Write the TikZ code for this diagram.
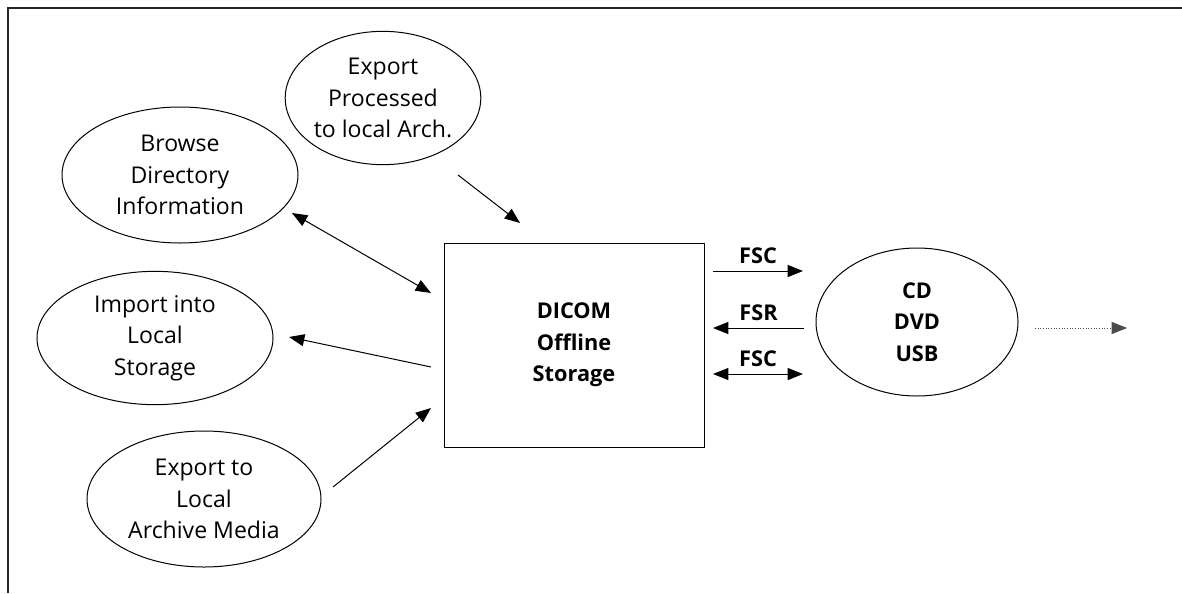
\documentclass[tikz,border=0pt]{standalone}
\usepackage{fontspec}
\setmainfont{Open Sans}
\usetikzlibrary{shapes.geometric,arrows.meta}

\begin{document}
\begin{tikzpicture}[x=0.75pt, y=-0.75pt, line width=0.75pt,
    >={Triangle[length=11.5pt,width=9pt]},
    font=\fontsize{17.3}{23.5}\selectfont,
    cas/.style={draw, ellipse, inner sep=0pt, align=center},
    bloc/.style={draw, rectangle, inner sep=0pt, align=center},
    gras/.style={font=\fontsize{16.3}{23.5}\selectfont\bfseries},
    etiq/.style={midway, above=2pt, font=\fontsize{16.3}{19}\selectfont\bfseries}]
                \useasboundingbox (0,0) rectangle (1182,593);

                % cadre
                \draw[line width=1.5pt, black!85] (8,593) -- (8,8) -- (1182,8);

                % cas d'utilisation
                \node[cas, minimum width=142.5pt, minimum height=100pt] (proc) at (383,98) {Export\\Processed\\to local Arch.};
                \node[cas, minimum width=177pt, minimum height=102pt] (browse) at (180,175) {Browse\\Directory\\Information};
                \node[cas, minimum width=177pt, minimum height=100pt] (import) at (155,338) {Import into\\Local\\Storage};
                \node[cas, minimum width=175.5pt, minimum height=102pt] (export) at (204,499) {Export to\\Local\\Archive Media};

                % stockage
                \node[bloc, gras, minimum width=195pt, minimum height=153pt] (dicom) at (574,345) {DICOM\\Offline\\Storage};

                % supports
                \node[cas, gras, minimum width=151.5pt, minimum height=111pt] (media) at (917,322) {CD\\DVD\\USB};

                % extremites des fleches
                \coordinate (procbas) at (458,175);
                \coordinate (dicomhaut) at (520,223);
                \coordinate (browsebas) at (292,213);
                \coordinate (dicomA) at (431,293);
                \coordinate (dicomB) at (431,367);
                \coordinate (importdroite) at (289,337);
                \coordinate (exporthaut) at (333,487);
                \coordinate (dicomC) at (431,408);
                \coordinate (fscA) at (713,271);
                \coordinate (fscB) at (803,271);
                \coordinate (fsrA) at (713,328);
                \coordinate (fsrB) at (804,328);
                \coordinate (fscC) at (713,374);
                \coordinate (fscD) at (803,374);
                \coordinate (suiteA) at (1035,328);
                \coordinate (suiteB) at (1127,328);

                % fleches vers le stockage
                \draw[->] (procbas) -- (dicomhaut);
                \draw[<->] (browsebas) -- (dicomA);
                \draw[->] (dicomB) -- (importdroite);
                \draw[->] (exporthaut) -- (dicomC);

                % echanges avec les supports
                \draw[->] (fscA) -- (fscB) node[etiq]{FSC};
                \draw[->] (fsrB) -- (fsrA) node[etiq]{FSR};
                \draw[<->] (fscC) -- (fscD) node[etiq]{FSC};

                % suite
                \draw[->, black!70, line width=0.6pt, dash pattern=on 0.8pt off 1.2pt] (suiteA) -- (suiteB);
            \end{tikzpicture}
\end{document}
